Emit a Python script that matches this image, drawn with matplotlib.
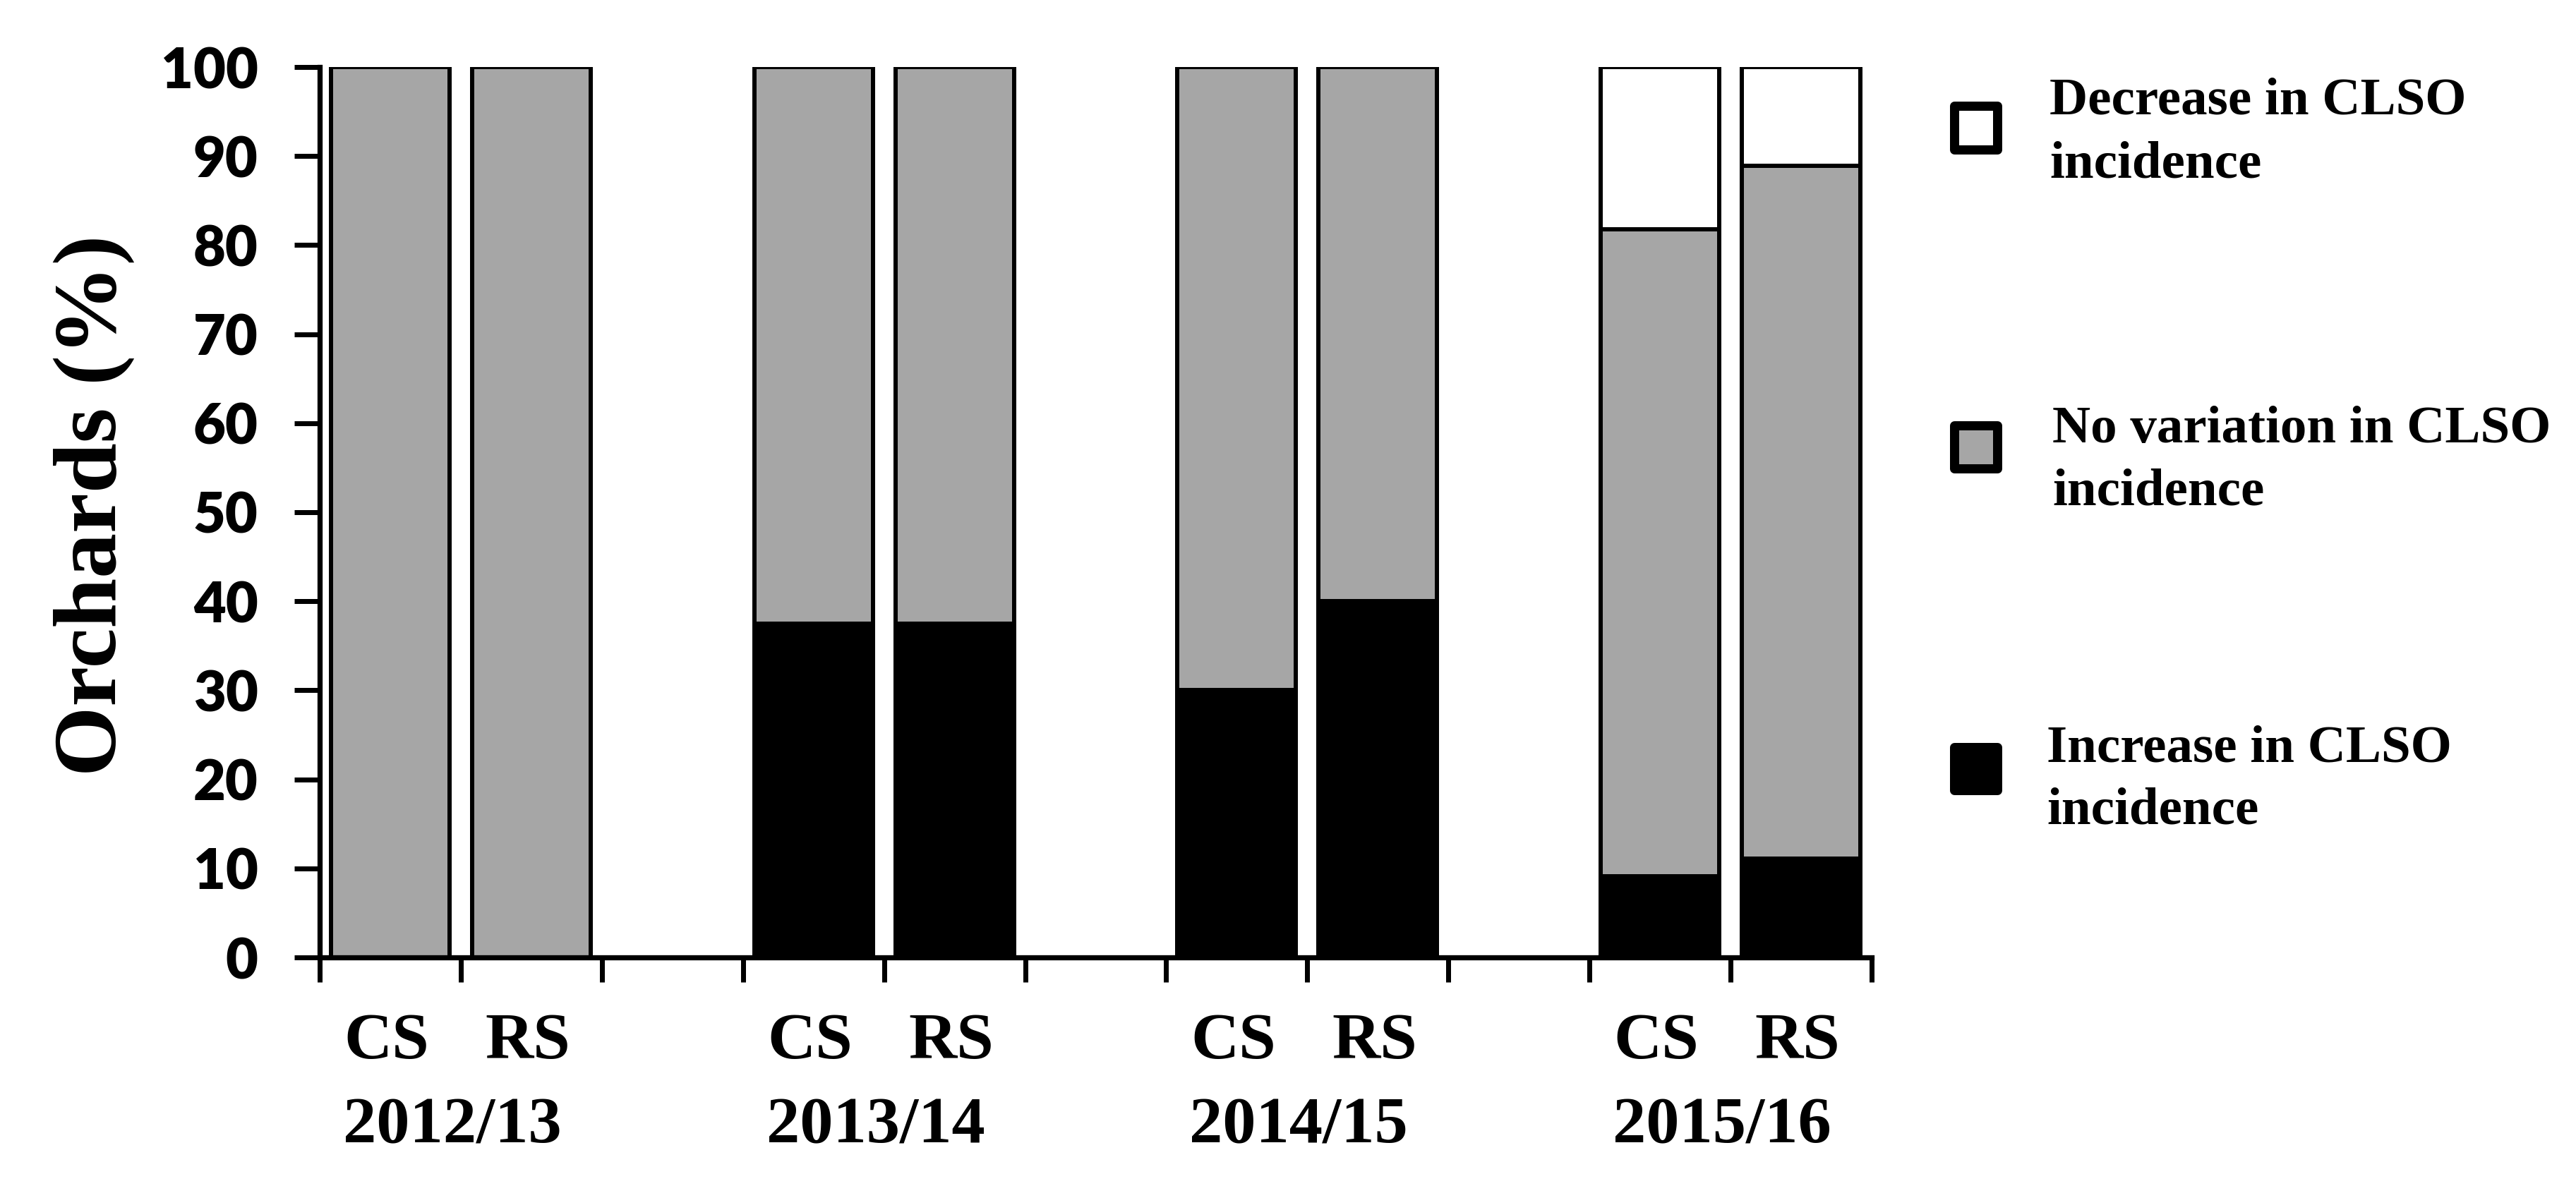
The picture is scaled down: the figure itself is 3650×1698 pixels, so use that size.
import matplotlib
matplotlib.use("Agg")
import matplotlib.pyplot as plt
from matplotlib.patches import Rectangle
from matplotlib.transforms import blended_transform_factory, offset_copy

# ---------------- data ----------------
years = ["2012/13", "2013/14", "2014/15", "2015/16"]
surveys = ["CS", "RS"]
increase = [0.0, 0.0, 37.5, 37.5, 30.0, 40.0, 9.1, 11.1]
no_variation = [100.0, 100.0, 62.5, 62.5, 70.0, 60.0, 72.7, 77.8]
decrease = [0.0, 0.0, 0.0, 0.0, 0.0, 0.0, 18.2, 11.1]
legend_labels = ["Decrease in CLSO\nincidence",
                 "No variation in CLSO\nincidence",
                 "Increase in CLSO\nincidence"]
yticks = [0, 10, 20, 30, 40, 50, 60, 70, 80, 90, 100]

# ---------------- style ----------------
W, H, DPI = 3650, 1698, 100
GRAY = "#a6a6a6"
SERIF = ["Liberation Serif", "DejaVu Serif"]
SANS = ["Lato", "DejaVu Sans"]
px = 72.0 / DPI  # points per pixel


def fx(x):
    return x / W


def fy(y):
    return 1 - y / H


fig = plt.figure(figsize=(W / DPI, H / DPI), dpi=DPI)
ax = fig.add_axes([fx(453), fy(1357), fx(2652) - fx(453), fy(95) - fy(1357)])

# bar positions: two bars per year, one empty slot between groups
pos = []
for g in range(len(years)):
    for s in range(len(surveys)):
        pos.append(g * 3 + s)

bw = 0.84
elw = 6 * px
bottoms2 = [a for a in increase]
bottoms3 = [a + b for a, b in zip(increase, no_variation)]
ax.bar(pos, increase, width=bw, color="black", edgecolor="black", linewidth=elw, zorder=2)
ax.bar(pos, no_variation, width=bw, bottom=bottoms2, color=GRAY, edgecolor="black",
       linewidth=elw, zorder=3)
ax.bar(pos, decrease, width=bw, bottom=bottoms3, color="white", edgecolor="black",
       linewidth=elw, zorder=4)

ax.set_xlim(-0.5, 10.5)
ax.set_ylim(0, 100)

for side in ["top", "right"]:
    ax.spines[side].set_visible(False)
for side in ["left", "bottom"]:
    ax.spines[side].set_linewidth(7.3 * px)
    ax.spines[side].set_zorder(5)

ax.set_yticks(yticks)
ax.set_yticklabels([str(t) for t in yticks], fontfamily=SANS, fontweight="heavy",
                   fontsize=57)
ax.tick_params(axis="y", direction="out", length=36 * px, width=7 * px, pad=37)

ax.set_xticks([])
ax.set_xticks([i - 0.5 for i in range(12)], minor=True)
ax.tick_params(axis="x", which="minor", direction="out", length=35 * px, width=7 * px)

trans = blended_transform_factory(ax.transData, ax.transAxes)
trans_s = offset_copy(trans, fig=fig, x=-5 * px, y=0, units="points")
trans_y = offset_copy(trans, fig=fig, x=-12 * px, y=0, units="points")
axh = 1357 - 95
for i, p in enumerate(pos):
    ax.text(p, -143 / axh, surveys[i % 2], transform=trans_s, ha="center", va="baseline",
            fontfamily=SERIF, fontweight="bold", fontsize=68)
for g, yr in enumerate(years):
    ax.text(g * 3 + 0.5, -262 / axh, yr, transform=trans_y, ha="center", va="baseline",
            fontfamily=SERIF, fontweight="bold", fontsize=68)

# y label
fig.text(fx(133), fy(716), "Orchards (%)", rotation=90, ha="center", va="center",
         fontfamily=SERIF, fontweight="bold", fontsize=92)

# legend (manual)
sq_centers = [181, 633, 1089]
sq_fill = ["white", GRAY, "black"]
text_left = [2904, 2908, 2900]
baselines = [(162, 251), (627, 715), (1080, 1168)]
sq_out = 74
sq_lw = 13
sq_in = sq_out - sq_lw
cx = 2799
for k in range(3):
    cy = sq_centers[k]
    r = Rectangle((fx(cx - sq_in / 2), fy(cy + sq_in / 2)), sq_in / W, sq_in / H,
                  transform=fig.transFigure, facecolor=sq_fill[k], edgecolor="black",
                  linewidth=sq_lw * px, joinstyle="round")
    fig.add_artist(r)
    lines = legend_labels[k].split("\n")
    for j, line in enumerate(lines):
        fig.text(fx(text_left[k]), fy(baselines[k][j]), line, ha="left", va="baseline",
                 fontfamily=SERIF, fontweight="bold", fontsize=54)

fig.savefig("out.png", dpi=DPI)
